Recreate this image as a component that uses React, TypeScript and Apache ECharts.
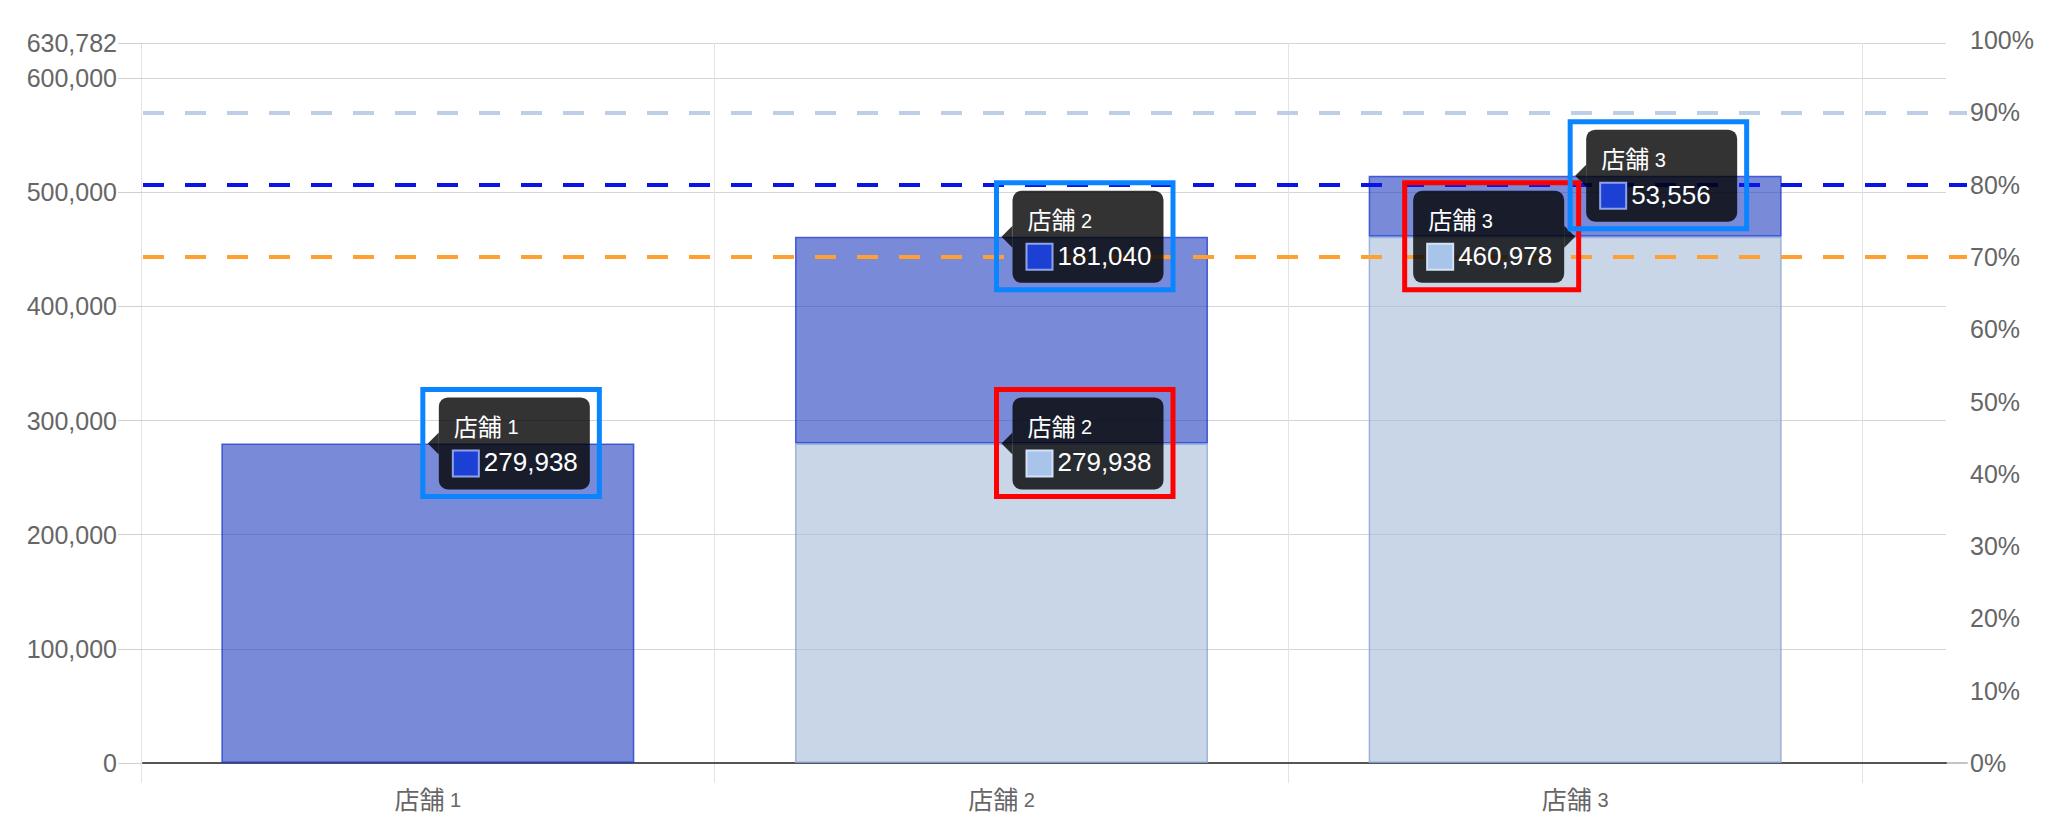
import { useEffect, useRef } from "react";
import * as echarts from "echarts";

const stores = ["店舗 1", "店舗 2", "店舗 3"];
// lower (light) part of each bar and the amount added on top of it (dark)
const baseValues = [null, 279938, 460978];
const addedValues = [279938, 181040, 53556];
const yMax = 630782;
const yStep = 100000;
const targetRates = [0.9, 0.8, 0.7];
const targetColors = ["#bccfe6", "#0a14e6", "#ffa033"];

// which bar segments carry a callout box
const callouts = [
  { series: "added", index: 0, side: "left", frame: "#0a84ff" },
  { series: "added", index: 1, side: "left", frame: "#0a84ff" },
  { series: "base", index: 1, side: "left", frame: "#ff0000" },
  { series: "base", index: 2, side: "right", frame: "#ff0000" },
  { series: "added", index: 2, side: "left", frame: "#0a84ff" },
];

const FONT = '"Liberation Sans", "Noto Sans CJK JP", sans-serif';
const CJK = '"Noto Sans CJK JP", sans-serif';

const swatch = {
  added: { fill: "#1c3fd4", stroke: "#8fa2ea" },
  base: { fill: "#a9c4ea", stroke: "#d5e2f5" },
};

// "店舗 1" -> CJK part a little larger than the number, as in the original
const storeRich = (name: string) => {
  const [word, num] = name.split(" ");
  return `{c|${word}}{n| ${num}}`;
};

const richParts = (color: string, big: number) => ({
  c: { fontSize: big, fontFamily: CJK, color, fill: color, lineHeight: 30, verticalAlign: "bottom" },
  n: { fontSize: 20, fontFamily: FONT, color, fill: color, lineHeight: 27, verticalAlign: "bottom" },
});

function buildCallouts(chart: echarts.ECharts) {
  const out: any[] = [];
  const boxW = 151;
  const boxH = 92;
  const gap = 11;
  callouts.forEach((c) => {
    const base = baseValues[c.index] ?? 0;
    const value = c.series === "added" ? addedValues[c.index] : base;
    const top = c.series === "added" ? base + value : base;
    const [px, py] = chart.convertToPixel({ xAxisIndex: 0, yAxisIndex: 2 }, [c.index, top]);
    const boxX = c.side === "left" ? px + gap : px - gap - boxW;
    const boxY = py - boxH / 2;
    const edge = c.side === "left" ? boxX : boxX + boxW;
    const sw = swatch[c.series as "added" | "base"];
    out.push(
      {
        type: "polygon",
        z: 100,
        shape: { points: [[px, py], [edge, py - 11], [edge, py + 11]] },
        style: { fill: "rgba(0,0,0,0.8)" },
      },
      {
        type: "rect",
        z: 100,
        shape: { x: boxX, y: boxY, width: boxW, height: boxH, r: 9 },
        style: { fill: "rgba(0,0,0,0.8)" },
      },
      {
        type: "text",
        z: 101,
        style: {
          x: boxX + 15,
          y: boxY + 25,
          text: storeRich(stores[c.index]),
          fill: "#fff",
          align: "left",
          verticalAlign: "middle",
          rich: richParts("#fff", 24),
        },
      },
      {
        type: "rect",
        z: 101,
        shape: { x: boxX + 14, y: boxY + 53, width: 26, height: 26 },
        style: { fill: sw.fill, stroke: sw.stroke, lineWidth: 2 },
      },
      {
        type: "text",
        z: 101,
        style: {
          x: boxX + 45,
          y: boxY + 65,
          text: value.toLocaleString("en-US"),
          fill: "#fff",
          fontSize: 26,
          fontFamily: FONT,
          align: "left",
          verticalAlign: "middle",
        },
      }
    );
    const x0 = c.side === "left" ? px - 5 : boxX - 8.5;
    const x1 = c.side === "left" ? boxX + boxW + 9.5 : px + 3.5;
    out.push({
      type: "rect",
      z: 102,
      shape: { x: x0, y: boxY - 8, width: x1 - x0, height: boxH + 15 },
      style: { fill: "none", stroke: c.frame, lineWidth: 5 },
    });
  });
  return out;
}

export default function App() {
  const chartRef = useRef(null);

  useEffect(() => {
    const chart = echarts.init(chartRef.current, null, { renderer: "svg" });

    const options = {
      animation: false,
      backgroundColor: "#fff",
      textStyle: { fontFamily: FONT },
      grid: [
        { left: 141, top: 43, width: 1721, height: 720 },
        { left: 143, top: 43, width: 1803, height: 720 },
        { left: 143, top: 40, width: 1824, height: 723 },
      ],
      xAxis: [
        {
          type: "category",
          gridIndex: 0,
          data: stores,
          axisLine: { show: false },
          axisTick: { show: true, length: 20, lineStyle: { color: "#e3e3e3" } },
          axisLabel: {
            color: "#666",
            margin: 17,
            formatter: (v: string) => storeRich(v),
            rich: richParts("#666", 25),
          },
          splitLine: { show: true, lineStyle: { color: "#e3e3e3" } },
        },
        {
          type: "value",
          gridIndex: 1,
          min: 0,
          max: 1,
          z: 1,
          axisLine: { show: true, onZero: false, lineStyle: { color: "#555", width: 2 } },
          axisTick: { show: false },
          axisLabel: { show: false },
          splitLine: { show: false },
        },
        {
          type: "value",
          gridIndex: 2,
          min: 0,
          max: 1,
          z: 0,
          axisLine: { show: true, onZero: false, lineStyle: { color: "#c4c4c4", width: 2 } },
          axisTick: { show: false },
          axisLabel: { show: false },
          splitLine: { show: false },
        },
      ],
      yAxis: [
        {
          type: "value",
          gridIndex: 1,
          position: "left",
          min: 0,
          max: yMax,
          interval: yStep,
          axisLine: { show: false },
          axisTick: { show: true, length: 25, lineStyle: { color: "#d0d0d0" } },
          axisLabel: {
            fontSize: 25,
            color: "#666",
            margin: 26,
            fontFamily: FONT,
            padding: [0, 0, 8, 0],
            formatter: (v: number) => v.toLocaleString("en-US"),
          },
          splitLine: { show: true, lineStyle: { color: "#d6d6d6" } },
        },
        {
          type: "value",
          gridIndex: 2,
          position: "right",
          min: 0,
          max: 1,
          interval: 0.1,
          axisLine: { show: false },
          axisTick: { show: false },
          splitLine: { show: false },
          axisLabel: {
            fontSize: 25,
            color: "#666",
            margin: 3,
            fontFamily: FONT,
            padding: [0, 0, 6, 0],
            formatter: (v: number) => Math.round(v * 100) + "%",
          },
        },
        { type: "value", gridIndex: 0, min: 0, max: yMax, show: false },
      ],
      series: [
        {
          type: "bar",
          name: "base",
          xAxisIndex: 0,
          yAxisIndex: 2,
          stack: "total",
          barWidth: "72%",
          z: 2,
          data: baseValues,
          itemStyle: {
            color: "rgba(163,187,217,0.6)",
            borderColor: "rgba(140,168,212,0.8)",
            borderWidth: 1.5,
          },
        },
        {
          type: "bar",
          name: "added",
          xAxisIndex: 0,
          yAxisIndex: 2,
          stack: "total",
          barWidth: "72%",
          z: 2,
          data: addedValues,
          itemStyle: {
            color: "rgba(30,60,190,0.6)",
            borderColor: "rgba(25,55,205,0.75)",
            borderWidth: 1.5,
          },
        },
        {
          type: "line",
          name: "targets",
          xAxisIndex: 2,
          yAxisIndex: 1,
          z: 1,
          data: [],
          markLine: {
            silent: true,
            symbol: "none",
            label: { show: false },
            data: targetRates.map((r, i) => ({
              yAxis: r,
              lineStyle: { color: targetColors[i], type: [21, 21], width: 4 },
            })),
          },
        },
      ],
    };

    chart.setOption(options);
    chart.setOption({ graphic: buildCallouts(chart) });

    return () => {
      chart.dispose();
    };
  }, []);

  return (
    <div
      ref={chartRef}
      style={{ position: "fixed", left: 0, top: 0, width: "2058px", height: "834px" }}
    />
  );
}
